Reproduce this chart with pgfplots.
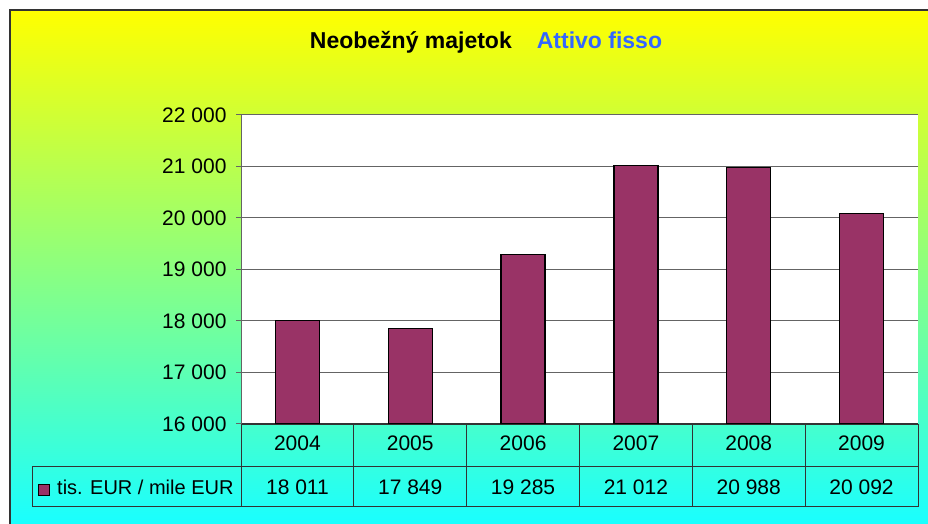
\documentclass[border=0pt]{standalone}
\usepackage{pgfplots}
\pgfplotsset{compat=1.18}
\usepackage{fontspec}
\setmainfont{Liberation Sans}
\definecolor{barc}{HTML}{993366}
\definecolor{titleblue}{HTML}{3366FF}
\definecolor{midgrad}{RGB}{205,250,175}
\definecolor{botgrad}{RGB}{25,255,255}
\definecolor{gridc}{RGB}{100,100,100}
\begin{document}
\begin{tikzpicture}[x=1pt,y=1pt]
\clip (0,0) rectangle (928,524);
\fill[white] (0,0) rectangle (928,524);
\shade[top color=yellow, middle color=midgrad, bottom color=botgrad] (10,0) rectangle (928,513);
\draw[line width=2pt, black!80] (10,-5) -- (10,513.5) -- (935,513.5);
\node[anchor=base, inner sep=0pt, font=\fontsize{23}{27}\selectfont\bfseries] at (486,475)
  {Neobežný majetok\hspace{25pt}\textcolor{titleblue}{Attivo fisso}};
\begin{axis}[
  at={(241pt,100pt)}, anchor=south west,
  scale only axis, width=677pt, height=309pt,
  xmin=-0.5, xmax=5.5, ymin=16000, ymax=22000,
  scaled y ticks=false,
  ytick={16000,17000,...,22000},
  yticklabels={16 000,17 000,18 000,19 000,20 000,21 000,22 000},
  xtick={0,...,5}, xticklabels={},
  major x tick style={draw=none},
  tick align=outside, major tick length=5pt,
  ytick style={gridc, line width=1pt},
  yticklabel style={font=\fontsize{21}{24}\selectfont, xshift=-6pt},
  axis background/.style={fill=white},
  separate axis lines,
  axis x line*=bottom, axis y line*=left,
  x axis line style={black!80, line width=1pt},
  y axis line style={gridc, line width=1pt},
  ymajorgrids, grid style={gridc, line width=1pt},
  clip=false,
]
\addplot[ybar, bar width=44pt, fill=barc, draw=black, line width=1.2pt]
  coordinates {(0,18011) (1,17849) (2,19285) (3,21012) (4,20988) (5,20092)};
\end{axis}
% data table
\begin{scope}[line width=0.9pt, draw=black!80]
\draw (241,100) -- (918,100) -- (918,18) -- (32,18) -- (32,58) -- (918,58);
\foreach \k in {0,...,5} { \draw ({241+112.83*\k},18) -- ({241+112.83*\k},100); }
\end{scope}
\begin{scope}[font=\fontsize{21}{24}\selectfont]
\foreach \y [count=\i from 0] in {2004,2005,2006,2007,2008,2009}
  \node[anchor=base, inner sep=0pt] at ({241+112.83*(\i+0.5)},73.3) {\y};
\foreach \v [count=\i from 0] in {18 011,17 849,19 285,21 012,20 988,20 092}
  \node[anchor=base, inner sep=0pt] at ({241+112.83*(\i+0.5)},29) {\v};
\fill[barc, draw=black, line width=1.2pt] (38.5,28.5) rectangle (49.5,39.5);
\node[anchor=base west, inner sep=0pt, font=\fontsize{20}{24}\selectfont] at (57,29) {tis. EUR / mile EUR};
\end{scope}
\end{tikzpicture}
\end{document}
